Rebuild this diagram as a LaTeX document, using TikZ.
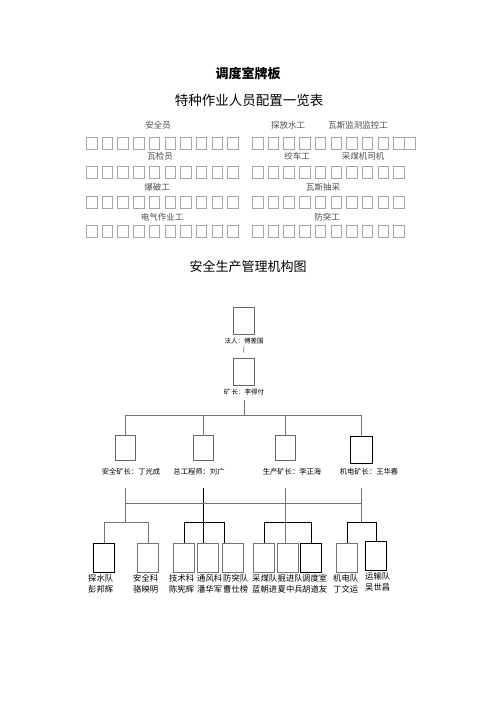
\documentclass[tikz,border=0pt]{standalone}
\usepackage{fontspec}
\newfontfamily\cjk{Noto Sans CJK SC}
\begin{document}
\begin{tikzpicture}[x=1pt,y=-1pt,
 every node/.style={inner sep=0pt},
 gbox/.style={draw=black!35, line width=0.7pt, minimum width=10.5pt, minimum height=11.5pt, anchor=north west},
 glabel/.style={font=\cjk\fontsize{8.5}{9}\selectfont, text=black!70},
 obox/.style={draw=black!60, line width=0.8pt, minimum width=21pt, minimum height=27pt},
 olabel/.style={font=\cjk\fontsize{6.5}{7}\selectfont},
 olabelb/.style={font=\cjk\fontsize{7.3}{8}\selectfont},
 sbox/.style={draw=black!55, line width=0.8pt, minimum width=21pt, minimum height=29pt, anchor=north west},
 slabel/.style={font=\cjk\fontsize{8.3}{11}\selectfont, align=left, anchor=north west},
 conn/.style={draw=black!55, line width=0.7pt},
 connk/.style={draw=black, line width=0.8pt}]
\path[use as bounding box] (0,0) rectangle (496,702);

% titles
\node[font=\cjk\bfseries\fontsize{13}{13}\selectfont] (title) at (248,73) {调度室牌板};
\node[font=\cjk\fontsize{13.5}{14}\selectfont] (sub) at (249,100) {特种作业人员配置一览表};

% grid of boxes
\foreach \r/\yy in {1/137,2/166,3/196,4/225}{
  \foreach \i in {0,...,9}{
    \node[gbox] (L\r-\i) at ({86+15.7*\i},\yy) {};
    \node[gbox] (R\r-\i) at ({252+15.7*\i},\yy) {};
  }
}
\node[gbox] (R1-10) at (404,137) {};

\node[glabel] (lab1) at (158,125) {安全员};
\node[glabel] (lab2) at (288,125) {探放水工};
\node[glabel] (lab3) at (358,125) {瓦斯监测监控工};
\node[glabel] (lab4) at (160,156) {瓦检员};
\node[glabel] (lab5) at (297,156) {绞车工};
\node[glabel] (lab6) at (363,156) {采煤机司机};
\node[glabel] (lab7) at (157,187) {爆破工};
\node[glabel] (lab8) at (323,187) {瓦斯抽采};
\node[glabel] (lab9) at (162,217) {电气作业工};
\node[glabel] (lab10) at (327,217) {防突工};

\node[font=\cjk\fontsize{13}{14}\selectfont] (sub2) at (248,267) {安全生产管理机构图};

% org chart
\node[obox] (fr) at (243.5,320.5) {};
\node[olabel] (frl) at (244,341) {法人：傅差国};
\node[obox] (kz) at (243.5,371.5) {};
\node[olabel] (kzl) at (244,392) {矿\,长：李得付};

\node[obox, minimum width=20pt, minimum height=25pt] (a) at (125,447.5) {};
\node[obox, minimum width=20pt, minimum height=25pt] (b) at (203,447.5) {};
\node[obox, minimum width=20pt, minimum height=25pt] (c) at (285,447.5) {};
\node[obox, draw=black, minimum width=22pt, minimum height=27pt] (d) at (361,449.5) {};
\node[olabelb] (al) at (131,472) {安全矿长：丁光成};
\node[olabelb] (bl) at (199,472) {总工程师：刘广};
\node[olabelb] (cl) at (292,472) {生产矿长：李正海};
\node[olabelb] (dl) at (369,472) {机电矿长：王华春};

\node[sbox, draw=black] (tanshui) at (93,543) {};
\node[sbox] (anquan) at (137,543) {};
\node[sbox] (jishu) at (173,543) {};
\node[sbox] (tongfeng) at (197,543) {};
\node[sbox] (fangtu) at (222,543) {};
\node[sbox] (caimei) at (253,543) {};
\node[sbox] (juejin) at (277,543) {};
\node[sbox, draw=black] (diaodu) at (300,543) {};
\node[sbox] (jidian) at (336,543) {};
\node[sbox, draw=black] (yunshu) at (365,541) {};

\node[slabel] (tanshuil) at (88,574) {探水队\\彭邦辉};
\node[slabel] (anquanl) at (133,574) {安全科\\骆映明};
\node[slabel] (jishul) at (169,574) {技术科\\陈宪辉};
\node[slabel] (tongfengl) at (197,574) {通风科\\潘华军};
\node[slabel] (fangtul) at (223,574) {防突队\\曹仕榜};
\node[slabel] (caimeil) at (252,574) {采煤队\\蓝朝进};
\node[slabel] (juejinl) at (277.5,574) {掘进队\\夏中兵};
\node[slabel] (diaodul) at (302,574) {调度室\\胡道友};
\node[slabel] (jidianl) at (333,574) {机电队\\丁文运};
\node[slabel] (yunshul) at (365,572) {运输队\\吴世昌};

% connectors
\draw[conn, shorten <=2pt, shorten >=5pt] (frl.south) -- (kz.north);
\coordinate (h1) at (244,415);
\draw[conn, shorten <=5pt] (kzl.south) -- (kzl.south |- h1);
\draw[conn] (a.north) -- (a.north |- h1) -- (d.north |- h1) -- (d.north);
\draw[conn] (b.north) -- (b.north |- h1);
\draw[conn] (c.north) -- (c.north |- h1);

\coordinate (t0) at (0,488);
\coordinate (h2) at (0,503);
\coordinate (h3) at (0,522);
\draw[conn] (a |- t0) -- (a |- h3);
\draw[connk] (b |- t0) -- (b |- tongfeng.north);
\draw[conn] (c |- t0) -- (c |- juejin.north);
\draw[conn] (d |- t0) -- (d |- h3);
\draw[conn] (a |- h2) -- (d |- h2);

\draw[conn] (tanshui.north) |- (anquan.north |- h3) -- (anquan.north);
\coordinate (ft) at ([xshift=2pt]fangtu.north west);
\draw[connk] (jishu.north) |- (ft |- h3) -- (ft);
\draw[connk] (caimei.north) |- (diaodu.north |- h3) -- (diaodu.north);
\draw[connk] (jidian.north) |- (yunshu.north |- h3) -- (yunshu.north);
\end{tikzpicture}
\end{document}
